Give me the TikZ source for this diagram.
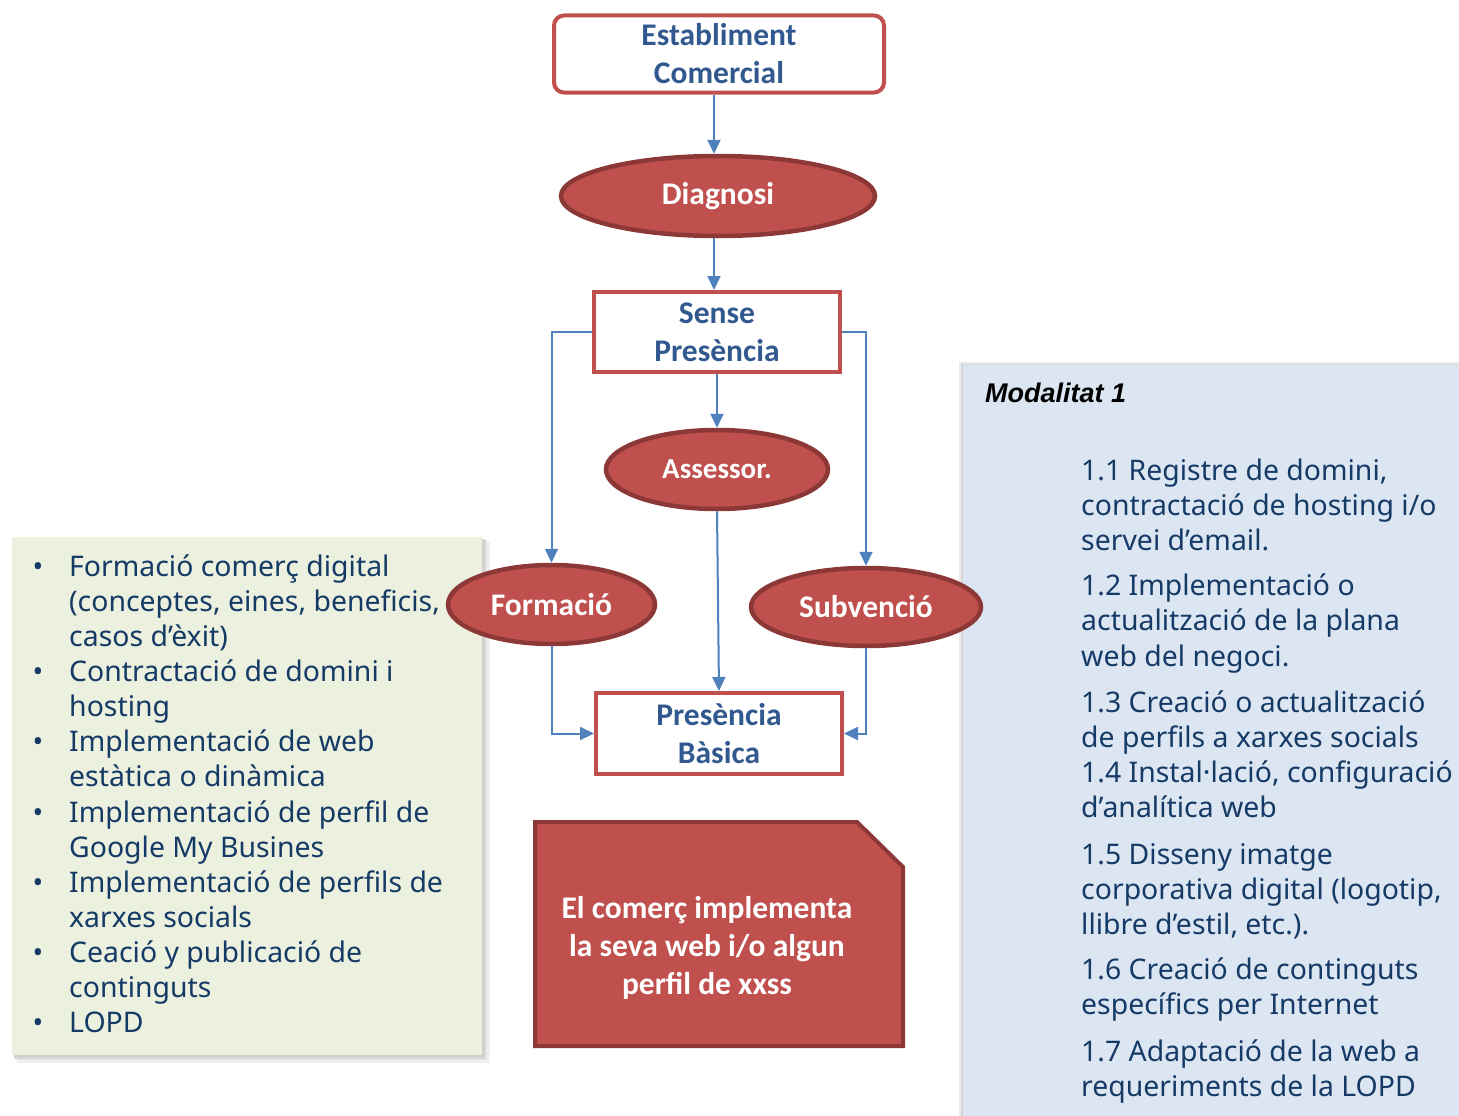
\documentclass[tikz,border=0pt]{standalone}
\usepackage{fontspec}
\setmainfont{Carlito}
\newfontfamily\listfont{Noto Sans}
\newfontfamily\modfont{Liberation Sans}
\usetikzlibrary{arrows.meta,shapes.geometric}
\definecolor{redfill}{HTML}{C0504D}
\definecolor{redline}{HTML}{8C3836}
\definecolor{boxline}{HTML}{C0504D}
\definecolor{arrowblue}{HTML}{4F81BD}
\definecolor{titleblue}{HTML}{31598F}
\definecolor{navy}{HTML}{153A66}
\definecolor{greenbg}{HTML}{EBF1DE}
\definecolor{bluebg}{HTML}{DCE6F2}
\begin{document}
\begin{tikzpicture}[x=1pt,y=-1pt,
  rbox/.style={draw=boxline, line width=4pt, fill=white, inner sep=0pt, align=center,
    text=titleblue, font=\fontsize{31.5}{38}\bfseries\selectfont},
  oval/.style={ellipse, draw=redline, line width=4.5pt, fill=redfill, inner sep=0pt,
    text=white, font=\fontsize{31.5}{38}\bfseries\selectfont},
  conn/.style={draw=arrowblue, line width=2pt, -{Triangle[width=13pt,length=14pt]}},
  ltext/.style={anchor=base west, inner sep=0pt, text=navy, font=\listfont\fontsize{28.4}{35}\selectfont},
  bul/.style={anchor=base, inner sep=0pt, text=navy, font=\listfont\fontsize{28.4}{35}\selectfont}]
\useasboundingbox (0,0) rectangle (1459,1116);
\fill[white] (0,0) rectangle (1459,1116);

% left green panel with soft shadow
\fill[black!6] (17,542) rectangle (490,1063);
\fill[black!12] (15,540) rectangle (487,1060);
\fill[black!18] (14,539) rectangle (485,1058);
\fill[greenbg] (12,537) rectangle (482,1055);

% right blue panel with shadow
\fill[black!8] (959,362) rectangle (1459,1116);
\fill[black!16] (961,364) rectangle (1459,1116);
\fill[bluebg] (963,365) rectangle (1459,1116);

% flow nodes
\node[rbox, rounded corners=10pt, minimum width=330, minimum height=77] (est) at (719,54) {Establiment\\Comercial};
\node[oval, minimum width=314, minimum height=80] (diag) at (718,196) {Diagnosi};
\node[rbox, minimum width=246, minimum height=80] (sense) at (717,332) {Sense\\Presència};
\node[oval, minimum width=222, minimum height=79, font=\fontsize{29}{36}\bfseries\selectfont] (ases) at (717,469.5) {Assessor.};
\node[oval, minimum width=207, minimum height=79] (form) at (551.5,604.5) {Formació};
\node[oval, minimum width=230, minimum height=78] (subv) at (866,607) {Subvenció};
\node[rbox, minimum width=246, minimum height=81] (basica) at (719,733.5) {Presència\\Bàsica};

% connectors
\draw[conn] ([xshift=-5pt]est.south) -- ([xshift=-4pt]diag.north);
\draw[conn] ([xshift=-4pt]diag.south) -- ([xshift=-3pt]sense.north);
\draw[conn] (sense.south) -- (ases.north);
\draw[conn] (sense.west) -| (form.north);
\draw[conn] (sense.east) -| (subv.north);
\draw[conn] (ases.south) -- (basica.north);
\draw[conn] (form.south) |- (basica.west);
\draw[conn] (subv.south) |- (basica.east);

% bottom chamfered box
\draw[draw=redline, line width=4pt, fill=redfill, line join=miter]
  (535,822) -- (857,822) -- (903,867) -- (903,1046) -- (535,1046) -- cycle;
\node[align=center, text=white, inner sep=0pt, font=\fontsize{31.5}{38}\bfseries\selectfont] (impl) at (707,948)
  {El comerç implementa\\la seva web i/o algun\\perfil de xxss};

% left list
\node[bul] (b1) at (38,576) {•};
\node[bul] (b2) at (38,681.45) {•};
\node[bul] (b3) at (38,751.75) {•};
\node[bul] (b4) at (38,822.05) {•};
\node[bul] (b5) at (38,892.35) {•};
\node[bul] (b6) at (38,962.65) {•};
\node[bul] (b7) at (38,1032.95) {•};
\node[ltext] (l0) at (69,576) {Formació comerç digital};
\node[ltext] (l1) at (69,611.15) {(conceptes, eines, beneficis,};
\node[ltext] (l2) at (69,646.3) {casos d’èxit)};
\node[ltext] (l3) at (69,681.45) {Contractació de domini i};
\node[ltext] (l4) at (69,716.6) {hosting};
\node[ltext] (l5) at (69,751.75) {Implementació de web};
\node[ltext] (l6) at (69,786.9) {estàtica o dinàmica};
\node[ltext] (l7) at (69,822.05) {Implementació de perfil de};
\node[ltext] (l8) at (69,857.2) {Google My Busines};
\node[ltext] (l9) at (69,892.35) {Implementació de perfils de};
\node[ltext] (l10) at (69,927.5) {xarxes socials};
\node[ltext] (l11) at (69,962.65) {Ceació y publicació de};
\node[ltext] (l12) at (69,997.8) {continguts};
\node[ltext] (l13) at (69,1032.95) {LOPD};

% right list
\node[anchor=base west, inner sep=0pt, text=black, font=\modfont\fontsize{27}{35}\bfseries\itshape\selectfont] (mod) at (985,402) {Modalitat 1};
\node[ltext] (r1) at (1081,480) {1.1 Registre de domini,};
\node[ltext] (r2) at (1081,515) {contractació de hosting i/o};
\node[ltext] (r3) at (1081,550) {servei d’email.};
\node[ltext] (r4) at (1081,595) {1.2 Implementació o};
\node[ltext] (r5) at (1081,630) {actualització de la plana};
\node[ltext] (r6) at (1081,666) {web del negoci.};
\node[ltext] (r7) at (1081,712) {1.3 Creació o actualització};
\node[ltext] (r8) at (1081,747) {de perfils a xarxes socials};
\node[ltext] (r9) at (1081,782) {1.4 Instal·lació, configuració};
\node[ltext] (r10) at (1081,817) {d’analítica web};
\node[ltext] (r11) at (1081,864) {1.5 Disseny imatge};
\node[ltext] (r12) at (1081,899) {corporativa digital (logotip,};
\node[ltext] (r13) at (1081,934) {llibre d’estil, etc.).};
\node[ltext] (r14) at (1081,979) {1.6 Creació de continguts};
\node[ltext] (r15) at (1081,1014) {específics per Internet};
\node[ltext] (r16) at (1081,1061) {1.7 Adaptació de la web a};
\node[ltext] (r17) at (1081,1096) {requeriments de la LOPD};
\end{tikzpicture}
\end{document}
